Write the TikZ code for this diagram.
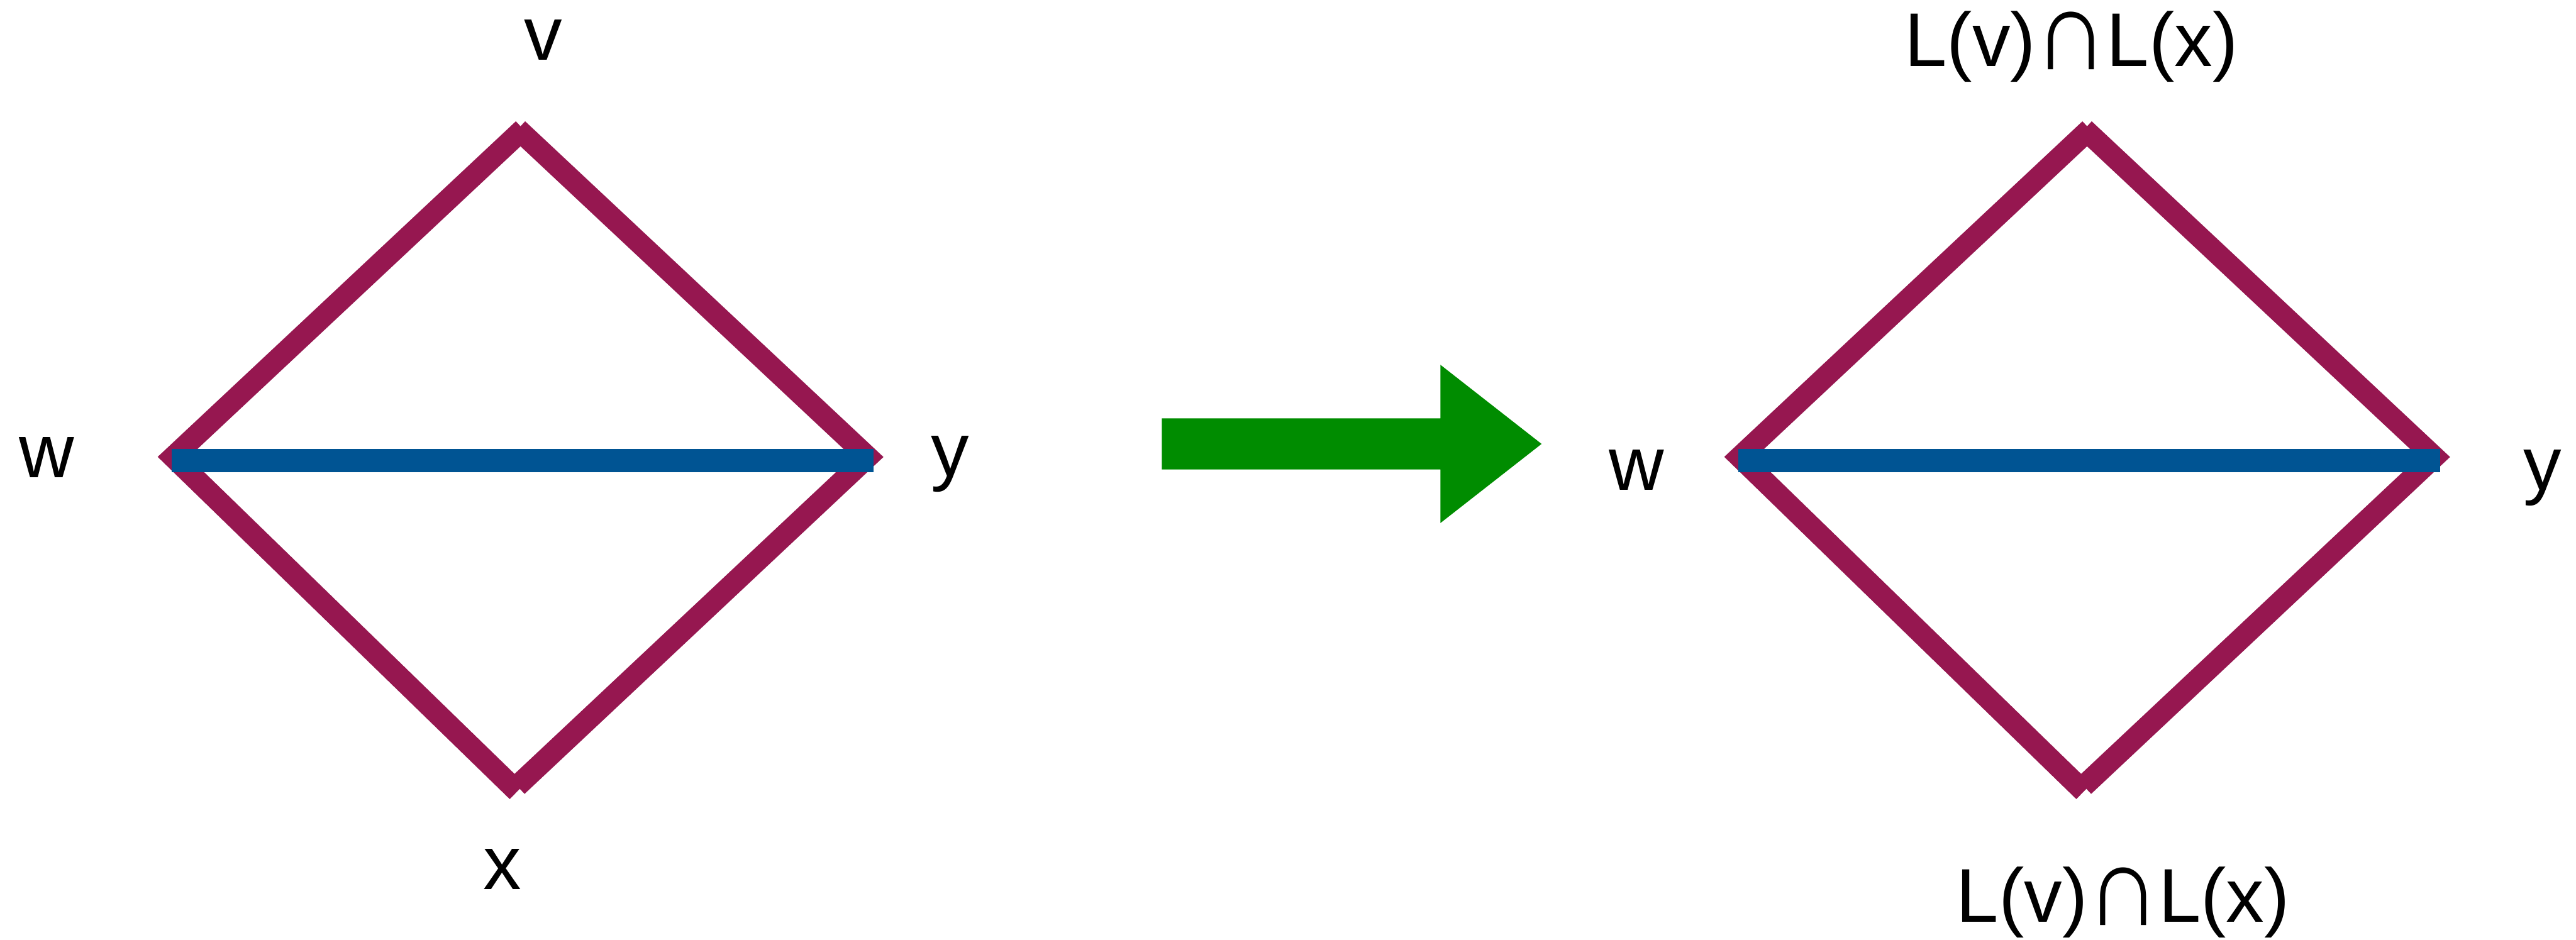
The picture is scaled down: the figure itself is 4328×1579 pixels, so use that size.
\documentclass[tikz,border=0pt]{standalone}
\usepackage{fontspec}
\setmainfont{Liberation Sans}
\newcommand{\capsign}{\kern-0.02em\raisebox{-0.05cm}{\scalebox{1.35}[1.5]{∩}}\kern-0.02em}
\begin{document}
\begin{tikzpicture}[x=0.01cm,y=-0.01cm,
  edge/.style={draw=edgecol,line width=0.36cm,line cap=butt,line join=miter},
  chord/.style={draw=chordcol,line width=0.40cm,line cap=butt},
  lbl/.style={inner sep=0pt,anchor=base,font=\fontsize{36.4}{44}\selectfont},
  bigarrow/.style={fill=arrowcol,draw=none}]
\definecolor{edgecol}{RGB}{150,23,80}
\definecolor{chordcol}{RGB}{0,84,147}
\definecolor{arrowcol}{RGB}{0,140,0}
\useasboundingbox (0,0) rectangle (4328,1579);

% left square: vertices v, w, x, y
\coordinate (Lv1) at (879,217);
\coordinate (Lv2) at (870,217);
\coordinate (Lw)  at (291,768);
\coordinate (Ly)  at (1458,768);
\coordinate (Lx1) at (869,1330);
\coordinate (Lx2) at (869,1321);
\coordinate (Lb1) at (288,774);
\coordinate (Lb2) at (1468,774);
\draw[edge] (Lv1) -- (Lw) -- (Lx1);
\draw[edge] (Lv2) -- (Ly) -- (Lx2);
\draw[chord] (Lb1) -- (Lb2);
\node[lbl] (lv) at (913,101) {v};
\node[lbl] (lw) at (78,802) {w};
\node[lbl] (ly) at (1596,800) {y};
\node[lbl] (lx) at (844,1495) {x};

% transformation arrow
\fill[bigarrow] (1952,703) -- (2420,703) -- (2420,613) -- (2590,746)
  -- (2420,879) -- (2420,789) -- (1952,789) -- cycle;

% right square
\coordinate (Rv1) at (3511,217);
\coordinate (Rv2) at (3502,217);
\coordinate (Rw)  at (2923,768);
\coordinate (Ry)  at (4090,768);
\coordinate (Rx1) at (3501,1330);
\coordinate (Rx2) at (3501,1321);
\coordinate (Rb1) at (2920,774);
\coordinate (Rb2) at (4100,774);
\draw[edge] (Rv1) -- (Rw) -- (Rx1);
\draw[edge] (Rv2) -- (Ry) -- (Rx2);
\draw[chord] (Rb1) -- (Rb2);
\node[lbl] (rv) at (3480,112) {L(v)\capsign L(x)};
\node[lbl] (rw) at (2750,824) {w};
\node[lbl] (ry) at (4272,824) {y};
\node[lbl] (rx) at (3567,1550) {L(v)\capsign L(x)};
\end{tikzpicture}
\end{document}
